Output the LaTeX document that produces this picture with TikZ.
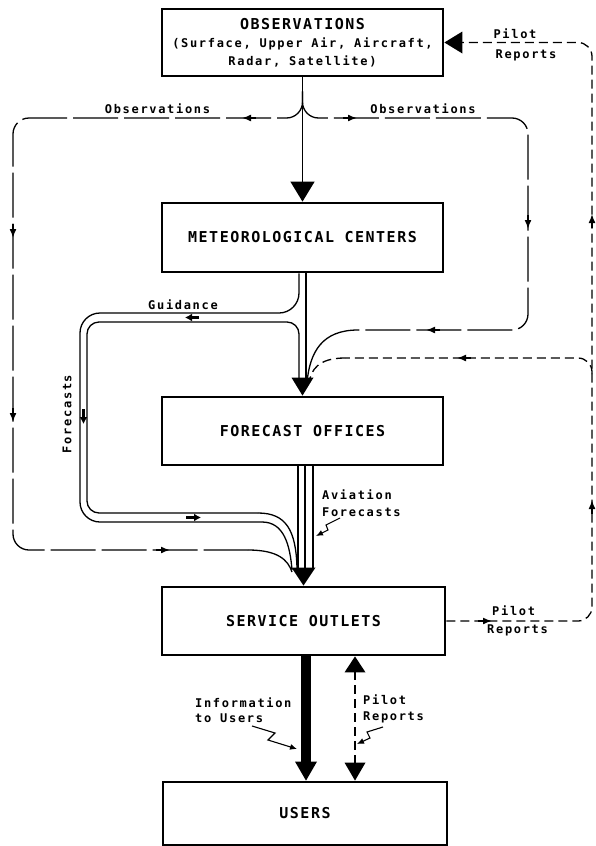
\documentclass[tikz,border=0pt]{standalone}
\usepackage{fontspec}
\usetikzlibrary{arrows.meta,calc}
\newfontfamily\labfont[LetterSpace=14]{DejaVu Sans Mono}
\newfontfamily\ttlfont[LetterSpace=10]{DejaVu Sans Mono}
\newcommand\smallab{\labfont\bfseries\fontsize{12}{15}\selectfont}
\begin{document}
\begin{tikzpicture}[x=1pt,y=-1pt,
  box/.style={draw, line width=2.8pt, minimum width=281pt, inner sep=0pt, align=center, font=\ttlfont\bfseries\fontsize{15}{18}\selectfont},
  lab/.style={inner sep=0pt, font=\labfont\bfseries\fontsize{12}{14}\selectfont},
  obsline/.style={line width=1.3pt, dash pattern=on 45pt off 6pt},
  pilotline/.style={line width=1.3pt, dash pattern=on 9pt off 5pt},
  wall/.style={line width=1.3pt},
  marrow/.style={line width=1.6pt, -{Latex[length=9pt,width=7pt]}},
  parrow/.style={line width=2.5pt, -{Latex[length=7pt,width=8pt]}},
  zz/.style={line width=1.1pt, -{Latex[length=7pt,width=6pt]}},
]
\useasboundingbox (0,0) rectangle (595,846);
\fill[white] (0,0) rectangle (595,846);

% boxes
\node[box, minimum height=67pt] (obs) at (302.5,42.5) {OBSERVATIONS\\[0pt]{\smallab (Surface, Upper Air, Aircraft,}\\{\smallab Radar, Satellite)}};
\node[box, minimum height=69pt] (mc) at (302.5,237.5) {METEOROLOGICAL CENTERS};
\node[box, minimum height=68pt] (fo) at (302.5,431) {FORECAST OFFICES};
\node[box, minimum width=283pt, minimum height=68pt] (so) at (303.5,621) {SERVICE OUTLETS};
\node[box, minimum width=284pt, minimum height=63pt] (users) at (305,813.5) {USERS};

% main arrow
\draw[wall, -{Triangle[length=20pt,width=24pt]}] (obs.south) -- (mc.north);

% observation branches
\draw[obsline, rounded corners=16pt] ($(obs.south)+(0,14)$) |- (13,118) -- (13,550) -- (248,550);
\draw[wall] (248,550) .. controls (278,550) and (288,560) .. (292,572);
\draw[obsline, rounded corners=16pt] ($(obs.south)+(0,14)$) |- (528,118) -- (528,330) -- (358,330);
\draw[wall] (358,330) .. controls (322,330) and (310,352) .. (307,382);

% MC -> FO pipe and guidance / forecasts pipe
\draw[wall] ($(mc.south)+(3.5,0)$) -- ($(fo.north)+(3.5,-16)$);
\draw[wall, rounded corners=20pt] ($(mc.south)+(-3.5,0)$) |- (80,313) |- (262,522);
\draw[wall] (262,522) .. controls (284,522) and (290,545) .. (292,570);
\draw[wall, rounded corners=12pt] ($(fo.north)+(-3.5,-16)$) |- (87,322) |- (258,513);
\draw[wall] (258,513) .. controls (286,513) and (296,530) .. (297,568);
\fill (fo.north) -- ++(-11,-18) -- ++(22,0) -- cycle;

% FO -> SO
\draw[wall] ($(fo.south)+(-4.5,0)$) -- ($(so.north)+(-5.5,-17)$);
\draw[wall] ($(fo.south)+(2.5,0)$) -- ($(so.north)+(1.5,-17)$);
\draw[wall] ($(fo.south)+(10.5,0)$) -- ($(so.north)+(9.5,-17)$);
\fill (so.north) -- ++(-12,-18) -- ++(24,0) -- cycle;

% SO -> USERS
\draw[line width=10pt] ($(so.south)+(2.5,0)$) -- ($(users.north)+(1,-18)$);
\fill ($(users.north)+(1,0)$) -- ++(-11,-19) -- ++(22,0) -- cycle;
\draw[pilotline] ($(so.south)+(51.5,15)$) -- ($(users.north)+(50,-18)$);
\fill ($(so.south)+(51.5,0)$) -- ++(-10.5,16) -- ++(21,0) -- cycle;
\fill ($(users.north)+(50,0)$) -- ++(-10.5,-18) -- ++(21,0) -- cycle;

% pilot reports loop
\draw[pilotline, rounded corners=14pt] (so.east) -- (592,621) -- (592,42.5) -- ($(obs.east)+(17,0)$);
\fill (obs.east) -- ++(18,-11) -- ++(0,22) -- cycle;
\draw[pilotline, rounded corners=14pt] (592,374) -- (592,358) -- (345,358);
\draw[pilotline] (345,358) .. controls (318,358) and (311,370) .. (309,383);

% small direction arrows
\draw[marrow] (256,118) -- (242,118);
\draw[marrow] (343,118) -- (357,118);
\draw[marrow] (13,224) -- (13,238);
\draw[marrow] (13,408) -- (13,422);
\draw[marrow] (156,550) -- (170,550);
\draw[marrow] (528,215) -- (528,229);
\draw[marrow] (440,330) -- (426,330);
\draw[marrow] (592,228) -- (592,214);
\draw[marrow] (592,514) -- (592,500);
\draw[marrow] (471,358) -- (457,358);
\draw[marrow] (478,621) -- (492,621);

% pipe arrows
\draw[parrow] (199,317.5) -- (185,317.5);
\draw[parrow] (83.5,409) -- (83.5,424);
\draw[parrow] (186,517.5) -- (201,517.5);

% labels
\node[lab] (obsL) at (157.5,109) {Observations};
\node[lab] (obsR) at (423,109) {Observations};
\node[lab] (pilT1) at (515,34) {Pilot};
\node[lab] (pilT2) at (526,55) {Reports};
\node[lab] (guid) at (183,305) {Guidance};
\node[lab, rotate=90] (fcst) at (67,414) {Forecasts};
\node[lab, anchor=west] (av1) at (322,495) {Aviation};
\node[lab, anchor=west] (av2) at (322,512) {Forecasts};
\node[lab, anchor=west] (pilB1) at (492,611) {Pilot};
\node[lab, anchor=west] (pilB2) at (487,630) {Reports};
\node[lab, anchor=west] (inf1) at (195,703) {Information};
\node[lab, anchor=west] (inf2) at (195,718) {to Users};
\node[lab, anchor=west] (pil1) at (363,700) {Pilot};
\node[lab, anchor=west] (pil2) at (363,717) {Reports};

% zigzag leaders
\coordinate (z1) at (252,726);
\coordinate (z2) at (383,727);
\coordinate (z3) at (340,518);
\draw[zz] (z1) -- (275,733) -- (268,740) -- (297,749);
\draw[zz] (z2) -- (367,732) -- (370,738) -- (357,744);
\draw[zz] (z3) -- (326,525) -- (328,530) -- (316,536);
\end{tikzpicture}
\end{document}
